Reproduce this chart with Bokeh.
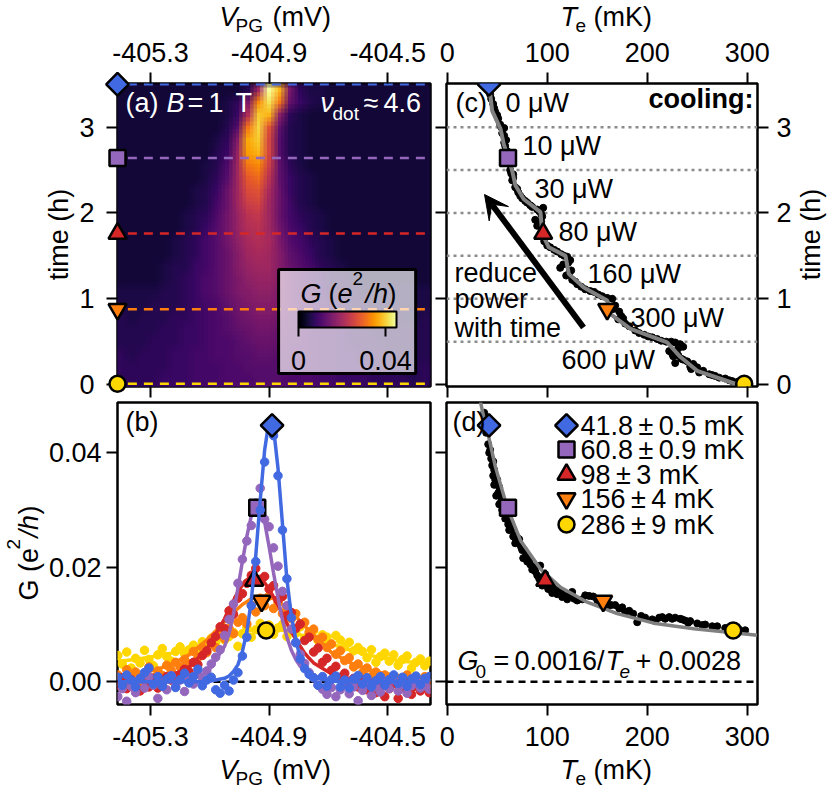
import math

import numpy as np
from bokeh.embed import file_html
from bokeh.layouts import column, row
from bokeh.models import (Arrow, BoxAnnotation, ColorBar, FixedTicker, GridBox, Label, LinearAxis,
                          LinearColorMapper, PrintfTickFormatter, Range1d, VeeHead)
from bokeh.palettes import Inferno256
from bokeh.plotting import figure
from bokeh.resources import INLINE

FONT = "Liberation Sans"

# colours and cut times shared by all panels
colors = ["#ffd700", "#ff7f0e", "#d62728", "#9467bd", "#4169e1"]
shapes = ["circle", "inverted_triangle", "triangle", "square", "diamond"]
cut_times = [0.01, 0.877, 1.76, 2.64, 3.5]

# panel (a): conductance map in 1e-3 e2/h, top row first
G_map = [
    [3, 3, 3, 3, 3, 3, 3, 3, 3, 3, 3, 3, 5, 18, 43, 36, 14, 6, 4, 4, 3, 3, 3, 3, 3, 3, 3, 3, 3, 3],
    [3, 3, 3, 3, 3, 3, 3, 3, 3, 3, 4, 6, 14, 32, 40, 30, 12, 7, 5, 4, 3, 3, 3, 3, 3, 3, 3, 3, 3, 3],
    [3, 3, 3, 3, 3, 3, 3, 3, 3, 3, 4, 7, 20, 38, 36, 16, 6, 4, 3, 3, 3, 3, 3, 3, 3, 3, 3, 3, 3, 3],
    [3, 3, 3, 3, 3, 3, 3, 3, 3, 3, 5, 10, 30, 39, 26, 11, 5, 4, 3, 3, 3, 3, 3, 3, 3, 3, 3, 3, 3, 3],
    [3, 3, 3, 3, 3, 3, 3, 3, 3, 4, 6, 15, 35, 38, 24, 10, 5, 4, 3, 3, 3, 3, 3, 3, 3, 3, 3, 3, 3, 3],
    [3, 3, 3, 3, 3, 3, 3, 3, 3, 5, 7, 17, 34, 36, 24, 10, 5, 4, 3, 3, 3, 3, 3, 3, 3, 3, 3, 3, 3, 3],
    [3, 3, 3, 3, 3, 3, 3, 3, 4, 5, 9, 18, 30, 32, 23, 11, 6, 4, 3, 3, 3, 3, 3, 3, 3, 3, 3, 3, 3, 3],
    [3, 3, 3, 3, 3, 3, 3, 3, 4, 6, 10, 18, 27, 29, 21, 11, 7, 5, 4, 3, 3, 3, 3, 3, 3, 3, 3, 3, 3, 3],
    [3, 3, 3, 3, 3, 3, 3, 4, 5, 7, 12, 18, 25, 26, 19, 12, 7, 5, 4, 3, 3, 3, 3, 3, 3, 3, 3, 3, 3, 3],
    [3, 3, 3, 3, 3, 3, 3, 4, 5, 8, 12, 18, 23, 24, 18, 12, 8, 5, 4, 3, 3, 3, 3, 3, 3, 3, 3, 3, 3, 3],
    [3, 3, 3, 3, 3, 3, 4, 5, 6, 9, 13, 17, 21, 22, 18, 12, 8, 6, 5, 4, 3, 3, 3, 3, 3, 3, 3, 3, 3, 3],
    [3, 3, 3, 3, 3, 3, 4, 5, 7, 10, 13, 17, 20, 21, 18, 13, 9, 7, 5, 4, 3, 3, 3, 3, 3, 3, 3, 3, 3, 3],
    [3, 3, 3, 3, 3, 4, 5, 6, 8, 10, 13, 16, 19, 20, 19, 14, 10, 8, 6, 5, 4, 3, 3, 3, 3, 3, 3, 3, 3, 3],
    [3, 3, 3, 3, 3, 4, 5, 6, 8, 10, 12, 15, 18, 19, 18, 15, 11, 9, 7, 5, 4, 3, 3, 3, 3, 3, 3, 3, 3, 3],
    [3, 3, 3, 3, 4, 5, 5, 7, 8, 10, 12, 15, 17, 18, 18, 15, 12, 10, 8, 6, 5, 4, 3, 3, 3, 3, 3, 3, 3, 3],
    [3, 3, 3, 3, 4, 5, 6, 7, 9, 10, 12, 14, 16, 17, 17, 15, 12, 10, 8, 7, 5, 5, 4, 3, 3, 3, 3, 3, 3, 3],
    [4, 4, 4, 4, 5, 5, 6, 7, 9, 10, 12, 14, 15, 16, 16, 14, 12, 10, 9, 7, 6, 5, 5, 4, 4, 4, 4, 4, 4, 4],
    [4, 4, 4, 5, 5, 5, 6, 7, 8, 9, 11, 13, 14, 15, 15, 14, 12, 10, 9, 8, 7, 6, 5, 5, 4, 4, 4, 4, 4, 4],
    [5, 4, 5, 5, 5, 6, 6, 7, 8, 9, 10, 12, 13, 14, 14, 13, 11, 10, 9, 8, 7, 6, 6, 5, 5, 4, 5, 4, 4, 5],
    [5, 5, 5, 5, 6, 6, 7, 7, 8, 9, 10, 11, 12, 13, 13, 12, 11, 10, 9, 8, 8, 7, 6, 6, 5, 5, 5, 5, 5, 5],
    [5, 5, 5, 6, 6, 6, 7, 7, 8, 9, 9, 10, 11, 12, 12, 11, 10, 10, 9, 8, 8, 7, 6, 6, 6, 5, 5, 5, 5, 5],
    [6, 5, 6, 6, 6, 7, 7, 8, 8, 9, 9, 10, 10, 11, 11, 10, 10, 9, 9, 8, 8, 7, 7, 6, 6, 6, 5, 5, 5, 5],
    [6, 6, 6, 6, 6, 7, 7, 8, 8, 8, 9, 9, 10, 10, 10, 10, 10, 9, 9, 8, 8, 7, 7, 7, 6, 6, 6, 5, 5, 6],
    [6, 6, 6, 6, 7, 7, 7, 8, 8, 8, 9, 9, 9, 10, 10, 10, 9, 9, 9, 8, 8, 7, 7, 7, 6, 6, 6, 6, 5, 6],
]
map_floor = 1.5  # the map's background sits a little above zero

# panel (b): line cuts, all in 1e-3 e2/h
V_dots = [-405.41, -405.395, -405.38, -405.365, -405.35, -405.335, -405.32, -405.305, -405.29, -405.275,
          -405.26, -405.245, -405.23, -405.215, -405.2, -405.185, -405.17, -405.155, -405.14, -405.125,
          -405.11, -405.095, -405.08, -405.065, -405.05, -405.035, -405.02, -405.005, -404.99, -404.975,
          -404.96, -404.945, -404.93, -404.915, -404.9, -404.885, -404.87, -404.855, -404.84, -404.825,
          -404.81, -404.795, -404.78, -404.765, -404.75, -404.735, -404.72, -404.705, -404.69, -404.675,
          -404.66, -404.645, -404.63, -404.615, -404.6, -404.585, -404.57, -404.555, -404.54, -404.525,
          -404.51, -404.495, -404.48, -404.465, -404.45, -404.435, -404.42, -404.405, -404.39, -404.375,
          -404.36]
G_yellow = [4.6, 3.1, 5.2, 2.4, 4.1, 3.3, 5.5, 3.9, 2.8, 4.7, 5.8, 4.4, 3.6, 5.3, 6.1, 4.9, 5.6, 6.4, 5.2, 7.0,
            6.2, 7.6, 6.8, 8.1, 7.3, 7.9, 8.6, 6.2, 8.4, 9.5, 7.8, 9.1, 10.2, 8.7, 9.9, 8.3, 9.4, 10.0, 7.9, 9.0,
            8.5, 9.6, 7.6, 8.4, 8.9, 7.2, 8.2, 7.8, 6.6, 8.1, 7.3, 6.1, 6.9, 5.4, 6.0, 5.3, 4.2, 5.6, 3.4, 4.4,
            5.0, 3.6, 4.7, 2.9, 3.9, 4.5, 2.4, 3.4, 4.0, 2.8, 3.6]
G_orange = [1.2, -0.4, 2.1, 0.6, 1.7, -0.2, 1.4, 2.6, 0.7, 1.9, 1.1, 2.9, 2.0, 3.4, 2.6, 3.9, 3.1, 5.3, 4.2, 6.0,
            5.1, 6.9, 6.0, 8.2, 7.5, 9.3, 8.4, 10.4, 11.2, 10.1, 13.4, 12.2, 14.6, 13.3, 15.0, 12.8, 13.9, 11.9, 12.9, 11.0,
            11.9, 10.0, 10.4, 8.7, 9.2, 7.4, 7.8, 6.0, 6.6, 4.8, 5.4, 3.7, 4.2, 2.6, 3.1, 1.6, 2.4, 0.9, 1.7, 0.3,
            1.2, -0.2, 0.9, -0.6, 0.5, 1.2, -1.0, 0.4, -0.7, 0.9, -0.3]
G_red = [-0.6, 0.7, -1.2, 0.4, -0.8, -1.6, 0.2, -0.9, 0.6, -1.1, -0.3, 0.9, 0.3, 1.0, 0.8, 2.2, 1.8, 3.4, 3.0, 4.6,
         5.4, 6.8, 7.9, 9.6, 9.3, 12.4, 11.8, 14.6, 15.4, 17.2, 18.6, 19.8, 17.9, 18.4, 16.2, 16.8, 14.3, 14.9, 11.6, 12.1,
         9.3, 10.1, 7.2, 7.8, 5.2, 5.9, 3.4, 4.1, 2.0, 2.7, 0.8, 1.5, -0.3, 0.6, -0.9, 0.3, -1.4, -0.2, -1.9, -0.6,
         -2.6, -1.2, -0.3, -2.9, -1.0, -0.1, -2.2, -0.8, -1.6, -0.4, -1.9]
G_purple = [-2.6, -1.2, -3.4, -0.8, -1.9, 0.4, -1.1, 0.9, -0.6, -2.9, -0.3, -1.4, 1.1, -0.8, 0.3, -1.7, 0.7, -0.4, 1.4, 0.2,
            1.9, 3.1, 4.3, 5.6, 8.1, 10.9, 13.6, 17.2, 21.4, 24.6, 27.3, 31.2, 33.8, 28.4, 27.1, 23.4, 20.2, 15.8, 13.3, 9.2,
            6.9, 4.8, 3.2, 1.6, 0.7, -0.6, -1.3, -2.2, -1.0, -2.6, -1.4, -0.5, -2.1, -0.9, -3.3, -1.5, -0.4, -2.4, -0.9, -1.8,
            -0.2, -1.2, 0.3, -1.6, -0.5, -2.0, -0.7, 0.2, -1.1, -0.4, -1.3]
G_blue = [0.8, -0.6, 1.2, 0.3, -0.9, 0.6, 1.6, 2.4, -0.4, 0.9, -0.8, 0.5, 1.0, -1.0, 0.4, 1.5, -0.2, 0.9, 2.2, -0.7,
          0.3, 0.8, -1.4, -2.0, -0.6, -1.6, 0.3, 1.6, 4.5, 7.8, 13.3, 21.0, 30.0, 38.4, 44.5, 43.0, 36.0, 26.5, 18.0, 11.2,
          6.8, 4.0, 2.3, 1.3, 0.7, -0.6, 0.9, -0.8, 0.4, 1.0, -0.9, 0.3, -1.1, 0.5, 1.1, -0.4, 0.7, -0.9, 0.2, 0.9,
          -0.6, 0.4, 1.2, -0.3, 0.8, -0.8, 0.5, 1.0, -0.5, 0.6, 0.9]
G_dots = [G_yellow, G_orange, G_red, G_purple, G_blue]

# fitted curves on a grid that is finer around the peak
V_fit = [-405.41, -405.35, -405.29, -405.23, -405.17, -405.11, -405.05, -405.035, -405.02, -405.005, -404.99, -404.975,
         -404.96, -404.945, -404.93, -404.915, -404.9, -404.885, -404.87, -404.855, -404.84, -404.825, -404.81,
         -404.795, -404.78, -404.765, -404.75, -404.69, -404.63, -404.57, -404.51, -404.45, -404.39, -404.36]
fit_yellow = [3.6, 3.9, 4.4, 5.0, 5.7, 6.6, 7.7, 7.9, 8.2, 8.4, 8.6, 8.8, 9.0, 9.2, 9.3, 9.4, 9.3, 9.2, 9.1, 9.0, 8.8,
              8.6, 8.4, 8.2, 8.0, 7.8, 7.6, 6.6, 5.6, 4.7, 4.1, 3.6, 3.3, 3.2]
fit_orange = [1.0, 1.3, 2.0, 3.0, 4.7, 7.3, 10.5, 11.5, 12.1, 12.8, 13.5, 14.0, 14.5, 14.8, 15.0, 15.0, 14.9, 14.5, 14.0,
              13.5, 12.8, 12.1, 11.5, 10.5, 9.8, 8.9, 8.2, 5.1, 3.4, 2.2, 1.4, 1.0, 0.8, 0.8]
fit_red = [-0.2, -0.1, 0.2, 1.1, 2.6, 5.7, 11.0, 12.8, 14.2, 15.7, 16.9, 17.8, 18.4, 18.5, 18.1, 17.3, 16.2, 14.8, 13.4,
           11.8, 10.2, 8.7, 7.4, 6.2, 5.0, 4.1, 3.3, 1.4, 0.6, 0.2, 0.0, 0.0, 0.0, 0.0]
fit_purple = [0.0, 0.0, 0.0, 0.0, 0.3, 1.5, 6.2, 8.4, 11.8, 16.4, 21.0, 25.4, 29.0, 31.0, 30.4, 27.9, 23.6, 19.0, 14.7,
              10.8, 7.8, 5.5, 3.9, 2.7, 1.9, 1.3, 0.9, 0.2, 0.0, 0.0, 0.0, 0.0, 0.0, 0.0]
fit_blue = [0.0, 0.0, 0.0, 0.0, 0.0, 0.0, 0.6, 1.0, 1.8, 3.0, 5.3, 8.7, 14.3, 22.0, 31.7, 40.5, 45.7, 44.3, 37.3, 27.6,
            17.9, 11.5, 7.4, 4.1, 2.4, 1.4, 0.8, 0.1, 0.0, 0.0, 0.0, 0.0, 0.0, 0.0]
G_fits = [fit_yellow, fit_orange, fit_red, fit_purple, fit_blue]
# where the fit marker sits on each cut
V_peak = [-404.91, -404.925, -404.95, -404.94, -404.89]

# panel (c): electron temperature against time
T_dots_c = [43, 46, 48, 51, 53, 57, 57, 59, 58, 60, 62, 63, 66, 65, 68, 71, 75, 80, 85, 92, 96, 95, 88, 93, 90, 96, 97,
            100, 107, 114, 120, 121, 113, 124, 119, 125, 130, 138, 147, 155, 165, 166, 172, 176, 171, 178, 188, 197,
            205, 214, 224, 233, 231, 222, 226, 234, 228, 240, 246, 244, 256, 262, 268, 278, 285,
            44, 47, 50, 54, 55, 57, 60, 64, 66, 70, 73, 78, 83, 90, 94, 94, 97, 103, 110, 117, 123, 116, 122, 128,
            134, 143, 151, 160, 168, 174, 182, 192, 201, 210, 219, 228, 236, 225, 231, 236, 243, 250, 252, 265, 272,
            282, 290]
t_dots_c = [3.38, 3.27, 3.18, 3.1, 3.03, 2.99, 2.9, 2.85, 2.78, 2.72, 2.58, 2.5, 2.45, 2.38, 2.3, 2.24, 2.17, 2.12, 2.07,
            2.02, 2.06, 1.96, 1.92, 1.88, 1.85, 1.8, 1.72, 1.62, 1.57, 1.52, 1.49, 1.42, 1.36, 1.33, 1.27, 1.22, 1.17,
            1.11, 1.08, 1.03, 1.0, 0.88, 0.85, 0.77, 0.76, 0.71, 0.63, 0.58, 0.55, 0.51, 0.5, 0.47, 0.42, 0.39, 0.33,
            0.3, 0.25, 0.27, 0.24, 0.18, 0.16, 0.12, 0.1, 0.07, 0.04,
            3.33, 3.22, 3.14, 3.0, 2.93, 2.82, 2.68, 2.46, 2.41, 2.28, 2.2, 2.14, 2.09, 2.04, 1.99, 1.9, 1.67, 1.6,
            1.55, 1.5, 1.45, 1.4, 1.3, 1.2, 1.14, 1.09, 1.05, 1.01, 0.92, 0.8, 0.68, 0.6, 0.56, 0.53, 0.5, 0.49, 0.44,
            0.36, 0.34, 0.29, 0.21, 0.2, 0.14, 0.11, 0.08, 0.05, 0.03]
T_line_c = [41.8, 45, 53.3, 56.6, 61.6, 65, 68.3, 76.6, 93.3, 95, 101.6, 118.3, 121.6, 136.6, 160, 163.3, 183.3, 220,
            233.3, 250, 286.6, 297]
t_line_c = [3.5, 3.19, 2.98, 2.8, 2.63, 2.49, 2.32, 2.16, 2.01, 1.76, 1.6, 1.5, 1.29, 1.13, 0.98, 0.82, 0.65, 0.49,
            0.32, 0.16, 0.015, 0.01]
T_cut_c = [297, 160, 96, 60.8, 41.8]
heater_powers = ["0 μW", "10 μW", "30 μW", "80 μW", "160 μW", "300 μW", "600 μW"]
heater_steps = [3.0, 2.5, 2.0, 1.5, 1.0, 0.5]

# panel (d): peak height against temperature
T_dots_d = [37, 39, 41, 42, 44, 45, 47, 48, 47, 50, 52, 51, 49, 54, 55, 60, 63, 62, 65, 66, 70, 68, 73, 75, 77, 76, 82,
            85, 88, 93, 98, 95, 100, 103, 105, 108, 112, 115, 120, 127, 125, 135, 142, 150, 160, 168, 175, 178, 182,
            190, 194, 205, 212, 218, 222, 228, 233, 238, 243, 250, 258, 270, 278, 292, 298,
            43, 46, 46, 49, 53, 52, 56, 58, 61, 64, 67, 69, 72, 74, 79, 80, 83, 87, 90, 92, 97, 101, 106, 110, 114,
            118, 122, 130, 138, 146, 154, 164, 172, 186, 198, 208, 215, 225, 235, 241, 255, 265]
G_dots_d = [47, 43.5, 41.5, 40, 39, 37.8, 37, 35.3, 34.4, 35.3, 34, 33, 32.5, 31.5, 30, 29, 28, 26.5, 26.9, 25.4, 25.2,
            24.2, 24, 23, 23, 21.6, 21.3, 19.6, 19.3, 20.3, 18.8, 16.8, 17, 16.4, 15.5, 15.6, 16, 14.8, 14.4, 14.5,
            15.7, 14.4, 15, 14.3, 13.1, 13.4, 13, 12.2, 12.4, 10.4, 11.5, 10.9, 11.2, 11, 11.3, 11.2, 11, 10.7, 10.6,
            10.2, 10, 9.7, 9.4, 9.1, 9.0,
            40.5, 38.5, 36, 34.8, 32.5, 31, 29.5, 28.5, 27.5, 27, 25.7, 24.7, 24.9, 23.5, 22.2, 21, 20.5, 20, 18.6, 18,
            17.6, 16.2, 16.4, 15.3, 15.5, 15, 14.9, 14.2, 15.1, 14.9, 13.8, 13.4, 12.8, 11.9, 11.2, 10.6, 11.3, 11,
            10.9, 10.3, 9.9, 9.7]
T_line_d = [33.3, 36.6, 41.6, 48.3, 60, 73.3, 93.3, 113.3, 140, 170, 206.6, 246.7, 286, 310]
G_line_d = [48.9, 46.2, 42.7, 37.5, 30.5, 24.7, 19.7, 16.5, 13.9, 11.9, 10.24, 9.25, 8.56, 8.11]
T_fit = [286, 156, 98, 60.8, 41.8]
G_fit = [8.96, 14.1, 17.7, 30.4, 44.8]
legend_texts = ["286\u2009±\u20099 mK", "156\u2009±\u20094 mK", "98\u2009±\u20093 mK", "60.8\u2009±\u20090.9 mK", "41.8\u2009±\u20090.5 mK"]

t_range = (-0.023, 3.509)
V_range = (-405.411, -404.356)
T_range = (-0.7, 310.3)
G_range = (-0.00397, 0.04879)
time_ticks = [0, 1, 2, 3]
V_ticks = [-405.3, -404.9, -404.5]
T_ticks = [0, 100, 200, 300]
G_ticks = [0.0, 0.02, 0.04]

mapper = LinearColorMapper(palette=Inferno256, low=0, high=0.045)


def make_panel(box, xr, yr, width, height, borders):
    p = figure(width=width, height=height, x_range=Range1d(*xr), y_range=Range1d(*yr),
               x_axis_location=None, y_axis_location=None, toolbar_location=None, output_backend="svg",
               min_border_left=borders[0], min_border_right=borders[1],
               min_border_top=borders[2], min_border_bottom=borders[3])
    p.grid.visible = False
    p.outline_line_color = "black"
    p.outline_line_width = 2.5
    p.tags = [dict(box=box, xr=xr, yr=yr)]
    return p


def add_axis(p, side, ticks, fmt=None, standoff=6):
    ax = LinearAxis(ticker=FixedTicker(ticks=ticks))
    ax.axis_line_color = None
    ax.major_tick_line_color = "black"
    ax.major_tick_line_width = 2
    ax.major_tick_out = 11
    ax.major_tick_in = 0
    ax.minor_tick_out = 0
    ax.minor_tick_in = 0
    if fmt:
        ax.formatter = PrintfTickFormatter(format=fmt)
        ax.major_label_text_font = FONT
        ax.major_label_text_font_size = "27px"
        ax.major_label_text_color = "black"
        ax.major_label_standoff = standoff
    else:
        ax.major_label_overrides = {t: "" for t in ticks}
        ax.major_label_standoff = 0
    p.add_layout(ax, side)


def data_xy(p, px, py):
    g = p.tags[0]
    l, r, t, b = g["box"]
    x = g["xr"][0] + (px - l) / (r - l) * (g["xr"][1] - g["xr"][0])
    y = g["yr"][0] + (b - py) / (b - t) * (g["yr"][1] - g["yr"][0])
    return x, y


def marker(p, shape, x, y, color, **kw):
    if shape == "diamond":
        p.scatter([x], [y], marker="square", angle=math.pi / 4, size=16, fill_color=color, line_color="black", line_width=2.5, **kw)
    else:
        size = {"circle": 16, "square": 16}.get(shape, 18)
        p.scatter([x], [y], marker=shape, size=size, fill_color=color, line_color="black", line_width=2.5, **kw)


# panel (a)
pa = make_panel((117, 430, 83, 386), V_range, t_range, 432, 401, (117, 2, 83, 15))
pa.background_fill_color = "#1b0c41"
add_axis(pa, "left", time_ticks, "%d", 12)
add_axis(pa, "above", V_ticks, "%.1f", 11)
add_axis(pa, "below", V_ticks)
# the map is laid down in shifted, fading layers so the cells blend as in the measured scan
map_values = (np.array(G_map, dtype=float)[::-1] + map_floor) * 1e-3
cell_x = (V_range[1] - V_range[0]) / map_values.shape[1]
cell_y = (t_range[1] - t_range[0]) / map_values.shape[0]
layer = 0
for oy in (-1 / 3, 0, 1 / 3):
    for ox in (-1 / 3, 0, 1 / 3):
        layer += 1
        pa.image(image=[map_values], x=V_range[0] + ox * cell_x, y=t_range[0] + oy * cell_y,
                 dw=V_range[1] - V_range[0], dh=t_range[1] - t_range[0], color_mapper=mapper, global_alpha=1 / layer)
for t, c in zip(cut_times, colors):
    pa.line([V_range[0] + 0.035, V_range[1]], [t, t], line_color=c, line_width=2.5, line_dash="9 7")
pa.add_layout(BoxAnnotation(left=-404.868, right=-404.406, bottom=0.128, top=1.34, fill_color="white", fill_alpha=0.68,
                            line_color="black", line_width=3, line_alpha=1))
cbar = ColorBar(color_mapper=mapper, ticker=FixedTicker(ticks=[0, 0.04]), formatter=PrintfTickFormatter(format="%g"),
                orientation="horizontal", width=98, height=16, padding=0, location=(181, 14),
                major_tick_out=9, major_tick_in=0, major_tick_line_color="black", major_tick_line_width=2,
                minor_tick_line_color=None, bar_line_color="black", bar_line_width=2, label_standoff=14,
                major_label_text_font=FONT, major_label_text_font_size="27px", major_label_text_color="black",
                background_fill_alpha=0, border_line_color=None)
pa.add_layout(cbar)

# panel (b)
pb = make_panel((117, 430, 402, 704), V_range, G_range, 432, 387, (117, 2, 1, 84))
add_axis(pb, "left", G_ticks, "%.2f", 5)
add_axis(pb, "below", V_ticks, "%.1f", 11)
pb.line(V_range, [0, 0], line_color="black", line_width=2.5, line_dash="7 5")
for k, c in enumerate(colors):
    pb.scatter(V_dots, np.array(G_dots[k]) * 1e-3, size=8.5, color=c)
    pb.line(V_fit, np.array(G_fits[k]) * 1e-3, line_color=c, line_width=3.5)
    marker(pb, shapes[k], V_peak[k], G_fit[k] * 1e-3, c)

# panel (c)
pc = make_panel((446, 757, 83, 386), T_range, t_range, 398, 401, (14, 73, 83, 15))
add_axis(pc, "right", time_ticks, "%d", 8)
add_axis(pc, "above", T_ticks, "%d", 11)
add_axis(pc, "left", time_ticks)
add_axis(pc, "below", T_ticks)
for t in heater_steps:
    pc.line(T_range, [t, t], line_color="#8c8c8c", line_width=2.5, line_dash="3 4")
pc.scatter(T_dots_c, t_dots_c, size=7, color="black")
pc.line(T_line_c, t_line_c, line_color="#808080", line_width=4)
for s, T, t, c in zip(shapes, T_cut_c, cut_times, colors):
    marker(pc, s, T, t, c)
pc.add_layout(Arrow(end=VeeHead(size=24, fill_color="black", line_color="black"), x_start=136.3, y_start=0.665,
                    x_end=37.3, y_end=2.215, line_color="black", line_width=6))

# panel (d)
pd = make_panel((446, 757, 402, 704), T_range, G_range, 398, 387, (14, 73, 1, 84))
add_axis(pd, "left", G_ticks)
add_axis(pd, "below", T_ticks, "%d", 11)
pd.line(T_range, [0, 0], line_color="black", line_width=2.5, line_dash="7 5")
pd.scatter(T_dots_d, np.array(G_dots_d) * 1e-3, size=7, color="black")
pd.line(T_line_d, np.array(G_line_d) * 1e-3, line_color="#808080", line_width=3.5)
for s, T, G, c in zip(shapes, T_fit, G_fit, colors):
    marker(pd, s, T, G * 1e-3, c)
for s, c, py in zip(shapes, colors, [524, 498, 474, 449, 425]):
    x, y = data_xy(pd, 566, py)
    marker(pd, s, x, y, c)

# a see-through sheet over the whole page carries what crosses the frames: texts and the marks on (a)'s edge
sheet = figure(width=830, height=790, x_range=Range1d(0, 830), y_range=Range1d(790, 0), x_axis_location=None,
               y_axis_location=None, toolbar_location=None, output_backend="svg", min_border=0,
               background_fill_color=None, border_fill_color=None, outline_line_color=None)
sheet.grid.visible = False
sheet.extra_x_ranges = {"V": Range1d(data_xy(pa, 0, 0)[0], data_xy(pa, 830, 0)[0])}
sheet.extra_y_ranges = {"t": Range1d(data_xy(pa, 0, 790)[1], data_xy(pa, 0, 0)[1])}
for s, c, t in zip(shapes, colors, cut_times):
    marker(sheet, s, V_range[0], t, c, x_range_name="V", y_range_name="t")


def put(px, py, s, size=27, style="normal", color="black", align="left", angle=0):
    sheet.add_layout(Label(x=px, y=py, text=s, text_font=FONT, text_font_size=f"{size}px", text_font_style=style,
                           text_color=color, text_align=align, text_baseline="middle", angle=angle))


for y in (16, 769):
    sub_y = y + 9
    for s, px, py, size, style in [("V", 219, y, 27, "italic"), ("PG", 235, sub_y, 19, "normal"), ("(mV)", 272, y, 27, "normal"),
                                   ("T", 560, y, 27, "italic"), ("e", 575, sub_y, 19, "normal"), ("(mK)", 593, y, 27, "normal")]:
        put(px, py, s, size, style)

put(58, 234, "time (h)", align="center", angle=math.pi / 2)
put(810, 234, "time (h)", align="center", angle=math.pi / 2)
for s, py, px, size, style in [("G (e", 600, 28, 27, "normal"), ("2", 549, 13, 19, "normal"), ("/h", 537, 28, 27, "italic"),
                               (")", 514, 28, 27, "normal")]:
    put(px, py, s, size, style, angle=math.pi / 2)

for s, px, py, size, style in [("G", 300, 293, 27, "italic"), ("(", 328, 293, 27, "normal"), ("e", 337, 293, 27, "italic"),
                               ("2", 352, 278, 19, "normal"), ("/h", 365, 293, 27, "italic"), (")", 387, 293, 27, "normal")]:
    put(px, py, s, size, style)
for s, px, py, size, style in [("(a)", 125, 102, 27, "normal"), ("B", 166, 102, 27, "italic"), ("=", 187, 102, 27, "normal"),
                               ("1", 208, 102, 27, "normal"), ("T", 235, 102, 27, "normal"), ("ν", 320, 102, 27, "italic"),
                               ("dot", 332, 113, 19, "normal"), ("≈", 363, 102, 27, "normal"), ("4.6", 383, 102, 27, "normal")]:
    put(px, py, s, size, style, color="white")
put(125, 421, "(b)")
put(455, 102, "(c)")
put(452, 421, "(d)")
for s, px, py in zip(heater_powers, [505, 522, 534, 558, 587, 630, 561], [102, 145, 188, 231, 273, 317, 359]):
    put(px, py, s)
for s, py in zip(["reduce", "power", "with time"], [272, 298, 327]):
    put(454, py, s)
put(753, 98, "cooling:", 27, "bold", align="right")
for txt, py in zip(legend_texts, [524, 498, 474, 449, 425]):
    put(580, py, txt)
for s, px, py, size, style in [("G", 457, 660, 27, "italic"), ("0", 475, 671, 19, "normal"), ("=", 493, 660, 27, "normal"),
                               ("0.0016/", 514, 660, 27, "normal"), ("T", 605, 660, 27, "italic"), ("e", 619, 671, 19, "italic"),
                               ("+", 635, 660, 27, "normal"), ("0.0028", 658, 660, 27, "normal")]:
    put(px, py, s, size, style)

panels = column(row(pa, pc, spacing=0), row(pb, pd, spacing=0), spacing=0)
layout = GridBox(children=[(panels, 0, 0), (column(sheet), 0, 0)], spacing=0)
open("out.html", "w").write(file_html(layout, INLINE))
